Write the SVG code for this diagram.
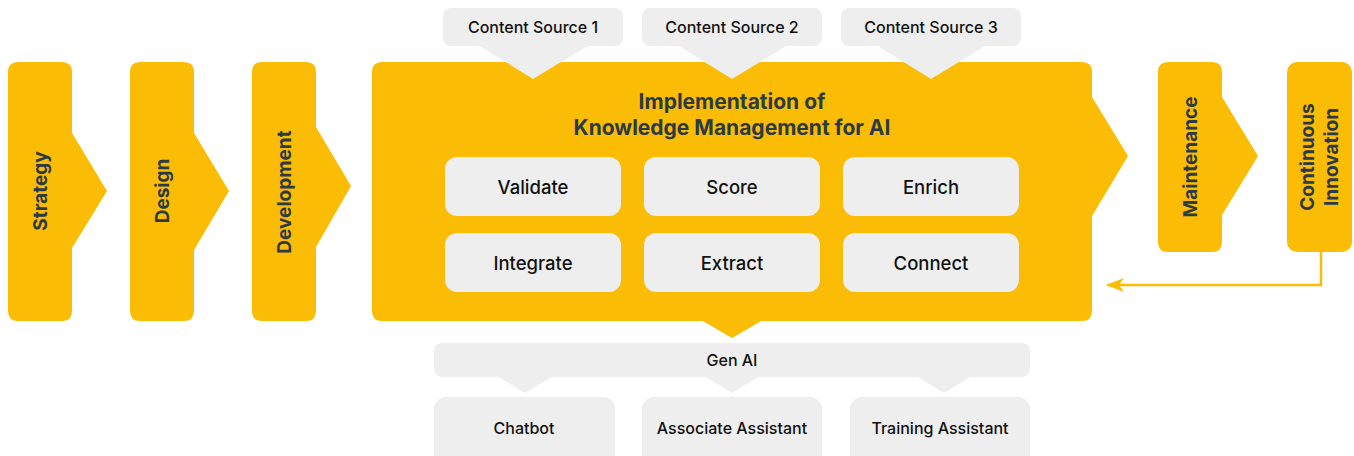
<svg xmlns="http://www.w3.org/2000/svg" width="1354" height="456" viewBox="0 0 1354 456">
<style>
.y{fill:#FBBC05}
.g{fill:#EEEEEE}
.vt{font-family:Inter,"Noto Sans",sans-serif;font-weight:700;font-size:19px;fill:#2B3A44;text-anchor:middle}
.tt{font-family:Inter,"Noto Sans",sans-serif;font-weight:700;font-size:21px;fill:#2B3A44;text-anchor:middle}
.bt{font-family:Inter,"Noto Sans",sans-serif;font-weight:500;font-size:18.5px;fill:#111111;text-anchor:middle}
.st{font-family:Inter,"Noto Sans",sans-serif;font-weight:500;font-size:16px;fill:#111111;text-anchor:middle}
</style>
<defs>
<marker id="ah" viewBox="0 0 18 14" refX="17" refY="7" markerWidth="18" markerHeight="14" orient="auto" markerUnits="userSpaceOnUse">
<path d="M0,0 L18,7 L0,14 L5,7 Z" fill="#FBBC05"/>
</marker>
</defs>
<rect width="1354" height="456" fill="#FFFFFF"/>

<g id="strategy">
<path class="y" d="M18,62 H62 Q72,62 72,72 V133 L107,191 L72,248 V311 Q72,321 62,321 H18 Q8,321 8,311 V72 Q8,62 18,62 Z"/>
<text class="vt" transform="translate(47,191) rotate(-90)">Strategy</text>
</g>
<g id="design">
<path class="y" d="M140,62 H184 Q194,62 194,72 V133 L229,191 L194,250 V311 Q194,321 184,321 H140 Q130,321 130,311 V72 Q130,62 140,62 Z"/>
<text class="vt" transform="translate(169,191) rotate(-90)">Design</text>
</g>
<g id="development">
<path class="y" d="M262,62 H306 Q316,62 316,72 V127 L351,186 L316,247 V311 Q316,321 306,321 H262 Q252,321 252,311 V72 Q252,62 262,62 Z"/>
<text class="vt" transform="translate(291,192) rotate(-90)">Development</text>
</g>

<g id="implementation">
<path class="y" d="M382,62 H1082 Q1092,62 1092,72 V97 L1128,156 L1092,216 V311 Q1092,321 1082,321 H382 Q372,321 372,311 V72 Q372,62 382,62 Z"/>
<text class="tt" x="732" y="109">Implementation of</text>
<text class="tt" x="732" y="135">Knowledge Management for AI</text>
<polygon class="y" points="701,320 732,338 763,320"/>
</g>
<g id="validate"><rect class="g" x="445" y="157" width="176" height="59" rx="12"/><text class="bt" x="533" y="194">Validate</text></g>
<g id="score"><rect class="g" x="644" y="157" width="176" height="59" rx="12"/><text class="bt" x="732" y="194">Score</text></g>
<g id="enrich"><rect class="g" x="843" y="157" width="176" height="59" rx="12"/><text class="bt" x="931" y="194">Enrich</text></g>
<g id="integrate"><rect class="g" x="445" y="233" width="176" height="59" rx="12"/><text class="bt" x="533" y="270">Integrate</text></g>
<g id="extract"><rect class="g" x="644" y="233" width="176" height="59" rx="12"/><text class="bt" x="732" y="270">Extract</text></g>
<g id="connect"><rect class="g" x="843" y="233" width="176" height="59" rx="12"/><text class="bt" x="931" y="270">Connect</text></g>

<g id="source1"><rect class="g" x="443" y="8" width="180" height="38" rx="8"/><polygon class="g" points="478,45 533,79 589,45"/><text class="st" x="533" y="33">Content Source 1</text></g>
<g id="source2"><rect class="g" x="642" y="8" width="180" height="38" rx="8"/><polygon class="g" points="677,45 732,79 788,45"/><text class="st" x="732" y="33">Content Source 2</text></g>
<g id="source3"><rect class="g" x="841" y="8" width="180" height="38" rx="8"/><polygon class="g" points="876,45 931,79 987,45"/><text class="st" x="931" y="33">Content Source 3</text></g>

<g id="maintenance">
<path class="y" d="M1168,62 H1212 Q1222,62 1222,72 V97 L1258,156 L1222,215 V242 Q1222,252 1212,252 H1168 Q1158,252 1158,242 V72 Q1158,62 1168,62 Z"/>
<text class="vt" transform="translate(1197,157) rotate(-90)">Maintenance</text>
</g>
<g id="innovation">
<rect class="y" x="1287" y="62" width="65" height="190" rx="10"/>
<text class="vt" transform="translate(1314,157) rotate(-90)">Continuous</text>
<text class="vt" transform="translate(1338,157) rotate(-90)">Innovation</text>
</g>

<g id="genai">
<rect class="g" x="434" y="343" width="596" height="34" rx="8"/>
<polygon class="g" points="497,376 525,393 553,376"/>
<polygon class="g" points="704,376 732,393 760,376"/>
<polygon class="g" points="916,376 944,393 972,376"/>
<text class="st" x="732" y="366">Gen AI</text>
</g>
<g id="chatbot"><rect class="g" x="434" y="397" width="181" height="70" rx="12"/><text class="st" x="524" y="434">Chatbot</text></g>
<g id="associate"><rect class="g" x="642" y="397" width="180" height="70" rx="12"/><text class="st" x="732" y="434">Associate Assistant</text></g>
<g id="training"><rect class="g" x="850" y="397" width="180" height="70" rx="12"/><text class="st" x="940" y="434">Training Assistant</text></g>

<g id="connectors">
<path d="M1321,252 V285 H1107" fill="none" stroke="#FBBC05" stroke-width="2.5" marker-end="url(#ah)"/>
</g>
</svg>
